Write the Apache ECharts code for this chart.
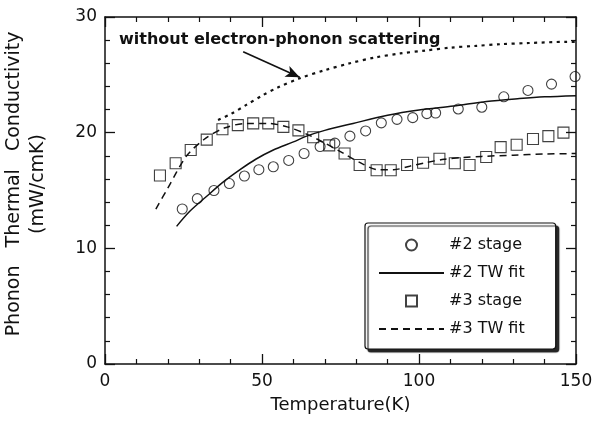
<!DOCTYPE html>
<html>
<head>
<meta charset="utf-8">
<script src="https://cdn.jsdelivr.net/npm/echarts@6/dist/echarts.min.js"></script>
<style>
  html, body { margin: 0; padding: 0; background: #fff; }
  #chart { width: 595px; height: 427px; }
</style>
</head>
<body>
<div id="chart"></div>
<script>
// #2 stage (circles)
const stage2T = [24.6, 29.4, 34.7, 39.6, 44.4, 49, 53.6, 58.5, 63.4, 68.5, 73.2, 78, 83, 88, 93, 98, 102.5, 105.3, 112.5, 120, 127, 134.7, 142.2, 149.7];
const stage2K = [13.4, 14.3, 15.0, 15.6, 16.25, 16.8, 17.05, 17.6, 18.2, 18.8, 19.1, 19.7, 20.15, 20.85, 21.15, 21.3, 21.65, 21.7, 22.05, 22.2, 23.1, 23.65, 24.2, 24.85];

// #3 stage (squares)
const stage3T = [17.5, 22.5, 27.3, 32.4, 37.4, 42.3, 47.2, 52, 56.8, 61.6, 66.3, 71.4, 76.3, 81.1, 86.5, 91, 96.2, 101.3, 106.5, 111.4, 116.1, 121.4, 126, 131.1, 136.3, 141.2, 146];
const stage3K = [16.3, 17.35, 18.5, 19.4, 20.3, 20.65, 20.8, 20.8, 20.5, 20.2, 19.6, 18.9, 18.2, 17.2, 16.75, 16.75, 17.2, 17.4, 17.75, 17.35, 17.2, 17.9, 18.75, 18.95, 19.45, 19.7, 20.0];

// #2 TW fit (solid)
const fit2T = [22.8, 27, 32.4, 37, 43, 48, 53.6, 60, 64.2, 70, 79, 90, 100, 111, 121.5, 132, 140, 150];
const fit2K = [11.9, 13.2, 14.5, 15.6, 16.8, 17.7, 18.5, 19.2, 19.7, 20.2, 20.8, 21.5, 21.95, 22.3, 22.7, 22.95, 23.1, 23.2];

// #3 TW fit (dashed)
const fit3T = [16.2, 20, 26, 32, 38, 45, 52, 58, 64, 70, 76, 82, 87, 92, 97, 102, 108, 114, 120, 130, 140, 150];
const fit3K = [13.4, 15.2, 18.0, 19.5, 20.4, 20.8, 20.8, 20.5, 19.9, 19.1, 18.2, 17.3, 16.8, 16.8, 17.1, 17.4, 17.7, 17.85, 17.95, 18.05, 18.15, 18.2];

// without electron-phonon scattering (dotted)
const noEpT = [36, 40, 45, 50, 55, 62, 70, 78, 86, 94, 102, 110, 118, 126, 135, 147, 150];
const noEpK = [21.1, 21.6, 22.4, 23.2, 23.9, 24.7, 25.4, 26.0, 26.5, 26.85, 27.1, 27.35, 27.5, 27.65, 27.75, 27.85, 27.85];

// arrow from label to the dotted curve
const arrowFrom = [44, 27.0];
const arrowTo = [62, 24.8];

const pairs = (xs, ys) => xs.map((x, i) => [x, ys[i]]);

const font = "DejaVu Sans";
const ink = "#111";
const noMark = { color: "rgba(0,0,0,0)", borderColor: "rgba(0,0,0,0)", borderWidth: 0 };

var chart = echarts.init(document.getElementById("chart"));

const tickAxis = (extra) => Object.assign({
  type: "value",
  axisLine: { show: true, onZero: false, lineStyle: { color: ink, width: 1.5 } },
  axisTick: { show: true, inside: true, length: 10, lineStyle: { color: ink, width: 1.3 } },
  minorTick: { show: true, splitNumber: 5, length: 5, lineStyle: { color: ink, width: 1.2 } },
  splitLine: { show: false },
  axisLabel: { show: false },
}, extra);

chart.setOption({
  animation: false,
  backgroundColor: "#fff",
  grid: { left: 105, right: 19, top: 17, bottom: 63, outerBoundsMode: "none", containLabel: false },
  xAxis: [
    tickAxis({
      min: 0, max: 150, interval: 50,
      name: "Temperature(K)",
      nameLocation: "middle",
      nameGap: 32,
      nameTextStyle: { fontFamily: font, fontSize: 18, color: ink },
      axisLabel: { show: true, margin: 9, fontFamily: font, fontSize: 17, color: ink },
    }),
    tickAxis({ min: 0, max: 150, interval: 50, position: "top" }),
  ],
  yAxis: [
    tickAxis({
      min: 0, max: 30, interval: 10,
      name: "Phonon   Thermal   Conductivity\n(mW/cmK)",
      nameLocation: "middle",
      nameGap: 55,
      nameTextStyle: { fontFamily: font, fontSize: 19, color: ink, lineHeight: 24, align: "center", padding: [0, 0, 0, 13] },
      axisLabel: { show: true, margin: 8, fontFamily: font, fontSize: 17, color: ink },
    }),
    tickAxis({ min: 0, max: 30, interval: 10, position: "right" }),
  ],
  legend: {
    orient: "vertical",
    left: 365,
    top: 223,
    padding: [14, 31, 12, 13],
    itemGap: 12,
    itemWidth: 65,
    itemHeight: 11,
    symbolKeepAspect: true,
    backgroundColor: "#fff",
    borderColor: ink,
    borderWidth: 1.2,
    borderRadius: 3,
    shadowColor: "rgba(0,0,0,0.85)",
    shadowBlur: 1,
    shadowOffsetX: 3,
    shadowOffsetY: 3,
    textStyle: { fontFamily: font, fontSize: 16, color: ink },
    data: [
      { name: "#2 stage" },
      { name: "#2 TW fit", itemStyle: noMark },
      { name: "#3 stage", icon: "path://M0,0H10V10H0Z" },
      { name: "#3 TW fit", itemStyle: noMark },
    ],
  },
  graphic: [
    {
      type: "text",
      left: 119,
      top: 32,
      style: {
        text: "without electron-phonon scattering",
        font: "bold 16px 'DejaVu Sans'",
        fill: ink,
      },
    },
  ],
  series: [
    {
      name: "without electron-phonon scattering",
      type: "line",
      data: pairs(noEpT, noEpK),
      smooth: 0.3,
      symbol: "none",
      lineStyle: { color: ink, width: 2.2, type: [3, 4.5] },
      markLine: {
        silent: true,
        symbol: ["none", "arrow"],
        symbolSize: [9, 14],
        label: { show: false },
        lineStyle: { color: ink, width: 1.6, type: "solid" },
        data: [[{ coord: arrowFrom }, { coord: arrowTo }]],
      },
    },
    {
      name: "#2 TW fit",
      type: "line",
      data: pairs(fit2T, fit2K),
      smooth: 0.3,
      symbol: "none",
      lineStyle: { color: ink, width: 1.5 },
      itemStyle: { color: ink },
    },
    {
      name: "#3 TW fit",
      type: "line",
      data: pairs(fit3T, fit3K),
      smooth: 0.3,
      symbol: "none",
      lineStyle: { color: ink, width: 1.5, type: [7, 5] },
      itemStyle: { color: ink },
    },
    {
      name: "#2 stage",
      type: "scatter",
      data: pairs(stage2T, stage2K),
      symbol: "circle",
      symbolSize: 10,
      itemStyle: { color: "rgba(0,0,0,0)", borderColor: ink, borderWidth: 1.1 },
    },
    {
      name: "#3 stage",
      type: "scatter",
      data: pairs(stage3T, stage3K),
      symbol: "rect",
      symbolSize: 11,
      itemStyle: { color: "rgba(0,0,0,0)", borderColor: ink, borderWidth: 1.1 },
    },
  ],
});
</script>
</body>
</html>
